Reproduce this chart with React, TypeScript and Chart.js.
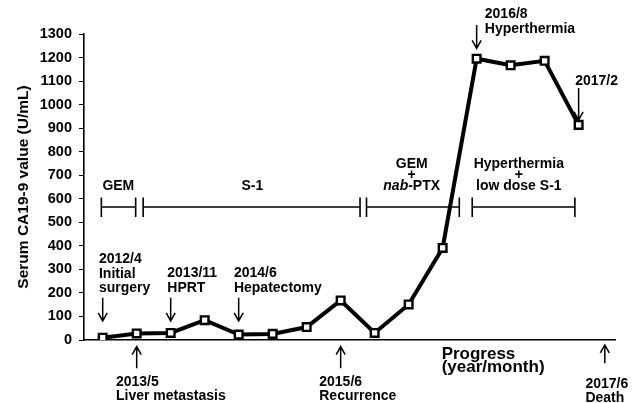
import React, { useEffect, useRef } from "react";
import { Chart, registerables } from "chart.js";

Chart.register(...registerables);

// ---- data ----
const pointIndex = [0, 1, 2, 3, 4, 5, 6, 7, 8, 9, 10, 11, 12, 13, 14];
const ca199Values = [10, 28, 30, 84, 23, 26, 55, 168, 30, 151, 391, 1195, 1167, 1186, 914];
const yMin = 0;
const yMax = 1300;
const yStep = 100;
const xMin = -0.55;
const xMax = 15.07;

// treatment periods (in point-index units) and their labels
const treatmentNames = [["GEM"], ["S-1"], ["GEM", "+", "*nab*-PTX"], ["Hyperthermia", "+", "low dose S-1"]];
const treatmentStart = [-0.04, 1.19, 7.76, 10.87];
const treatmentEnd = [0.97, 7.57, 10.49, 13.89];
const treatmentLabelX = [0.46, 4.4, 9.09, 12.24];
const treatmentLevel = 565; // y-value of the interval bars

// clinical events
const eventLines = [
  ["2012/4", "Initial", "surgery"],
  ["2013/11", "HPRT"],
  ["2014/6", "Hepatectomy"],
  ["2013/5", "Liver metastasis"],
  ["2015/6", "Recurrence"],
  ["2017/6", "Death"],
  ["2016/8", "Hyperthermia"],
  ["2017/2"],
];
const eventArrowX = [0, 2, 4, 1, 7, 14.77, 11, 14];
const eventArrowFrom = [180, 180, 180, -120, -120, -99, 1338, 1071];
const eventArrowTo = [81, 81, 81, -28, -28, -21, 1239, 935];
const eventTextX = [-0.11, 1.9, 3.86, 0.39, 6.37, 14.2, 11.24, 13.9];
const eventTextY = [326, 266, 266, -194, -194, -203, 1366, 1083];

const xAxisTitle = ["Progress", "(year/month)"];
const xAxisTitleX = 9.97;
const xAxisTitleY = -82;
const yAxisTitle = "Serum CA19-9 value (U/mL)";

const FONT = "'Liberation Sans', Arial, Helvetica, sans-serif";

function drawArrow(ctx: CanvasRenderingContext2D, x: number, y0: number, y1: number) {
  // y0 = tail, y1 = tip
  const dir = y1 > y0 ? 1 : -1;
  ctx.beginPath();
  ctx.moveTo(x, y0);
  ctx.lineTo(x, y1);
  ctx.moveTo(x - 4.5, y1 - dir * 8);
  ctx.lineTo(x, y1);
  ctx.lineTo(x + 4.5, y1 - dir * 8);
  ctx.stroke();
}

function drawRich(ctx: CanvasRenderingContext2D, text: string, x: number, y: number, size: number, align: "left" | "center") {
  // supports *italic* segments
  const parts = text.split("*");
  const segs = parts.map((t, i) => ({ t, italic: i % 2 === 1 })).filter((s) => s.t.length);
  let total = 0;
  const widths = segs.map((s) => {
    ctx.font = `${s.italic ? "italic " : ""}bold ${size}px ${FONT}`;
    const w = ctx.measureText(s.t).width;
    total += w;
    return w;
  });
  let cx = align === "center" ? x - total / 2 : x;
  ctx.textAlign = "left";
  segs.forEach((s, i) => {
    ctx.font = `${s.italic ? "italic " : ""}bold ${size}px ${FONT}`;
    ctx.fillText(s.t, cx, y);
    cx += widths[i];
  });
}

const annotationPlugin = {
  id: "clinicalAnnotations",
  beforeDatasetsDraw(chart: any) {
    const ctx: CanvasRenderingContext2D = chart.ctx;
    const xs = chart.scales.x;
    const ys = chart.scales.y;
    const px = (v: number) => xs.getPixelForValue(v);
    const py = (v: number) => ys.getPixelForValue(v);
    ctx.save();
    ctx.fillStyle = "#000";
    ctx.strokeStyle = "#000";
    ctx.textBaseline = "alphabetic";

    // treatment interval bars
    ctx.lineWidth = 1.6;
    const by = py(treatmentLevel);
    treatmentNames.forEach((names, i) => {
      const x0 = px(treatmentStart[i]);
      const x1 = px(treatmentEnd[i]);
      ctx.beginPath();
      ctx.moveTo(x0, by);
      ctx.lineTo(x1, by);
      ctx.moveTo(x0, by - 9.5);
      ctx.lineTo(x0, by + 10);
      ctx.moveTo(x1, by - 9.5);
      ctx.lineTo(x1, by + 10);
      ctx.stroke();
      const cx = px(treatmentLabelX[i]);
      const n = names.length;
      names.forEach((line, j) => {
        const baseline = by - 17 - (n - 1 - j) * 11;
        drawRich(ctx, line, cx, baseline, 14, "center");
      });
    });

    // event arrows and texts
    ctx.lineWidth = 1.5;
    eventLines.forEach((lines, i) => {
      drawArrow(ctx, px(eventArrowX[i]), py(eventArrowFrom[i]), py(eventArrowTo[i]));
      const tx = px(eventTextX[i]);
      const ty = py(eventTextY[i]);
      lines.forEach((line, j) => {
        drawRich(ctx, line, tx, ty + j * 14.4, 14, "left");
      });
    });

    // x-axis title
    xAxisTitle.forEach((line, j) => {
      drawRich(ctx, line, px(xAxisTitleX), py(xAxisTitleY) + j * 13, 17, "left");
    });
    ctx.restore();
  },
};

export default function App() {
  const canvasRef = useRef<HTMLCanvasElement | null>(null);

  useEffect(() => {
    document.body.style.margin = "0";
    const canvas = canvasRef.current;
    if (!canvas) return;
    const chart = new Chart(canvas, {
      type: "line",
      data: {
        datasets: [
          {
            data: pointIndex.map((x, i) => ({ x, y: ca199Values[i] })),
            borderColor: "#000",
            borderWidth: 4,
            pointStyle: "rect",
            pointRadius: 5.4,
            pointBackgroundColor: "#fff",
            pointBorderColor: "#000",
            pointBorderWidth: 2.4,
            tension: 0,
            fill: false,
          },
        ],
      },
      options: {
        animation: false,
        responsive: false,
        devicePixelRatio: 1,
        layout: { padding: { top: 34, right: 25, bottom: 0, left: 0 } },
        plugins: {
          legend: { display: false },
          tooltip: { enabled: false },
          title: { display: false },
        },
        scales: {
          x: {
            type: "linear",
            min: xMin,
            max: xMax,
            grid: { display: false },
            border: { display: true, color: "#000", width: 1.6 },
            ticks: { display: false },
            afterFit: (s: any) => {
              s.height = 63;
            },
          },
          y: {
            type: "linear",
            min: yMin,
            max: yMax,
            grid: {
              display: true,
              drawOnChartArea: false,
              drawTicks: true,
              tickLength: 5,
              color: "#000",
              lineWidth: 1,
            },
            border: { display: true, color: "#000", width: 1.6 },
            ticks: {
              stepSize: yStep,
              padding: 7,
              color: "#000",
              font: { family: FONT, size: 14.5, weight: "bold" },
              callback: (v: any) => String(v),
            },
            title: {
              display: true,
              text: yAxisTitle,
              color: "#000",
              font: { family: FONT, size: 15.5, weight: "bold" },
              padding: { top: 14, bottom: 0 },
            },
            afterFit: (s: any) => {
              s.width = 84;
            },
          },
        },
      },
      plugins: [annotationPlugin],
    });
    return () => chart.destroy();
  }, []);

  return (
    <div style={{ position: "absolute", left: 0, top: 0, width: 640, height: 403, background: "#fff" }}>
      <canvas ref={canvasRef} width={640} height={403} style={{ width: 640, height: 403, display: "block" }} />
    </div>
  );
}
